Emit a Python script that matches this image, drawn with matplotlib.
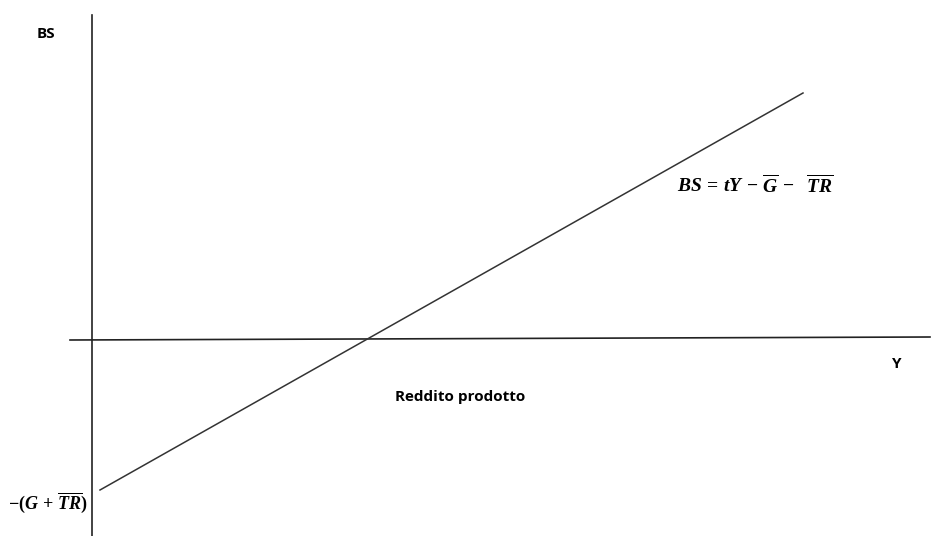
import matplotlib.pyplot as plt
import numpy as np

# Data in "chart units": origin where the axes cross
y_income = [8, 711]          # Reddito prodotto (Y) at the line ends
bs_values = [-151, 246]      # BS at the line ends
intercept = -155             # -(G + TR)

h_axis_x = [-22, 838]
h_axis_y = [-1, 2]
v_axis_x = [0, 0]
v_axis_y = [-197, 324]

plt.rcParams['mathtext.fontset'] = 'custom'
plt.rcParams['mathtext.it'] = 'Liberation Serif:italic:bold'
plt.rcParams['mathtext.rm'] = 'Liberation Serif:bold'
plt.rcParams['mathtext.bf'] = 'Liberation Serif:bold'

fig = plt.figure(figsize=(9.43, 5.36), dpi=100)
ax = fig.add_axes([0, 0, 1, 1])
ax.set_xlim(-92, 851)
ax.set_ylim(-197, 339)
ax.axis('off')

# axes of the diagram
ax.plot(h_axis_x, h_axis_y, color='#222222', linewidth=1.2)
ax.plot(v_axis_x, v_axis_y, color='#222222', linewidth=1.2)

# budget surplus line
ax.plot(y_income, bs_values, color='#333333', linewidth=1.1)

# labels
ax.text(-46, 305, 'BS', fontsize=11, fontweight='bold', family='Open Sans',
        ha='center', va='center')
ax.text(805, -25, 'Y', fontsize=11, fontweight='bold', family='Open Sans',
        ha='center', va='center')
ax.text(368, -58, 'Reddito prodotto', fontsize=11, fontweight='bold',
        family='Open Sans', ha='center', va='center')
ax.text(585, 154, r'$BS\,=\,tY\,-\,\overline{G}\,-\ \ \overline{TR}$', fontsize=14,
        ha='left', va='center')
ax.text(-4, intercept - 9, r'$-(G\,+\,\overline{TR})$', fontsize=13,
        ha='right', va='center')

plt.savefig('out.png', dpi=100)
